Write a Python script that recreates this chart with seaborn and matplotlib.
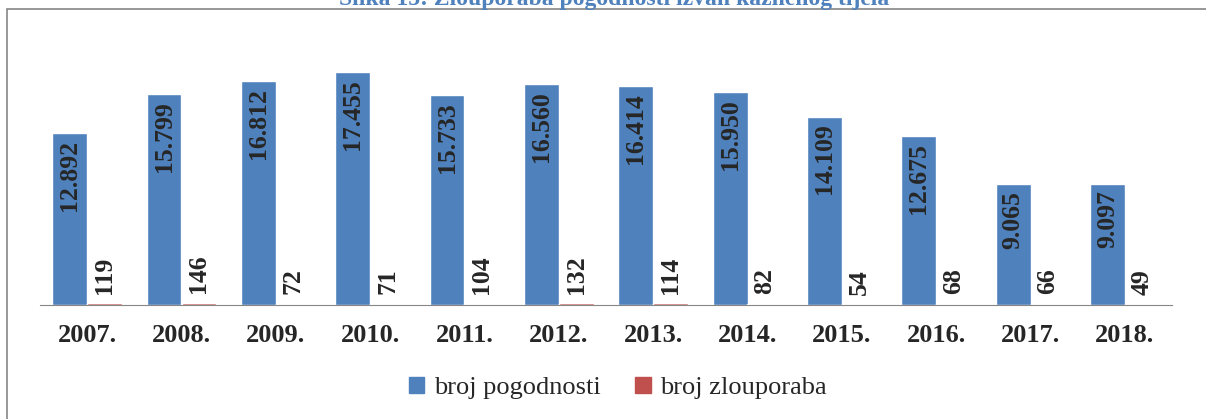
import pandas as pd
import numpy as np
import matplotlib.pyplot as plt
import matplotlib.patches as mpatches
import seaborn as sns

# --- DATA ---
years = ['2007.', '2008.', '2009.', '2010.', '2011.', '2012.',
         '2013.', '2014.', '2015.', '2016.', '2017.', '2018.']
pogodnosti = [12892, 15799, 16812, 17455, 15733, 16560, 16414, 15950, 14109, 12675, 9065, 9097]
zlouporaba = [119, 146, 72, 71, 104, 132, 114, 82, 54, 68, 66, 49]
series = ['broj pogodnosti', 'broj zlouporaba']
colors = ['#4F81BD', '#C0504D']

df = pd.DataFrame({
    'Godina': years * 2,
    'Serija': [series[0]] * len(years) + [series[1]] * len(years),
    'Broj': pogodnosti + zlouporaba,
})

def fmt(v):
    return f"{v:,}".replace(",", ".")

# --- PLOT ---
sns.set_style("white")
plt.rcParams['font.family'] = ['Liberation Serif', 'DejaVu Serif']

fig = plt.figure(figsize=(12.06, 4.19), dpi=100)
ax = fig.add_axes([40 / 1206, 1 - 305 / 419, (1172 - 40) / 1206, (305 - 38) / 419])

sns.barplot(data=df, x='Godina', y='Broj', hue='Serija', palette=colors,
            width=0.74, gap=0, ax=ax, saturation=1, legend=False)

ax.set_ylim(0, 20000)
ax.set_xlim(-0.5, len(years) - 0.5)

# value labels
for cont, vals, inside in zip(ax.containers, [pogodnosti, zlouporaba], [True, False]):
    for patch, v in zip(cont.patches, vals):
        xc = patch.get_x() + patch.get_width() / 2
        h = patch.get_height()
        if inside:
            ax.annotate(fmt(v), (xc, h), xytext=(0, -5), textcoords='offset points',
                        rotation=90, ha='center', va='top', fontsize=18.5, fontweight='bold')
        else:
            ax.annotate(fmt(v), (xc, h), xytext=(0, 7), textcoords='offset points',
                        rotation=90, ha='center', va='bottom', fontsize=18.5, fontweight='bold')

# axes styling
for s in ['top', 'right', 'left']:
    ax.spines[s].set_visible(False)
ax.spines['bottom'].set_color('#868686')
ax.set_yticks([])
ax.set_xlabel('')
ax.set_ylabel('')
ax.set_xticks(np.arange(len(years)))
ax.set_xticklabels(years, fontsize=19, fontweight='bold')
ax.tick_params(axis='x', which='major', length=0, pad=14)
ax.set_xticks(np.arange(len(years) + 1) - 0.5, minor=True)
ax.tick_params(axis='x', which='minor', length=6, color='#868686', width=1)

# legend
handles = [mpatches.Patch(color=c, label=s) for c, s in zip(colors, series)]
fig.legend(handles=handles, loc='center', bbox_to_anchor=(0.512, 1 - 388 / 419), ncol=2,
           frameon=False, fontsize=19, handlelength=0.6, handleheight=0.6,
           handletextpad=0.35, columnspacing=1.3)

# title (clipped at top like the source) and outer frame
fig.text(0.509, 1 - 5 / 419, 'Slika 15: Zlouporaba pogodnosti izvan kaznenog tijela',
         ha='center', va='baseline', fontsize=17, fontweight='bold', color='#4F81BD')
fig.patches.append(mpatches.Rectangle((7 / 1206, -0.1), 1.2, 1 - 9 / 419 + 0.1,
                                      transform=fig.transFigure, fill=False,
                                      edgecolor='#868686', linewidth=1.2))

fig.savefig('out.png', dpi=100)
